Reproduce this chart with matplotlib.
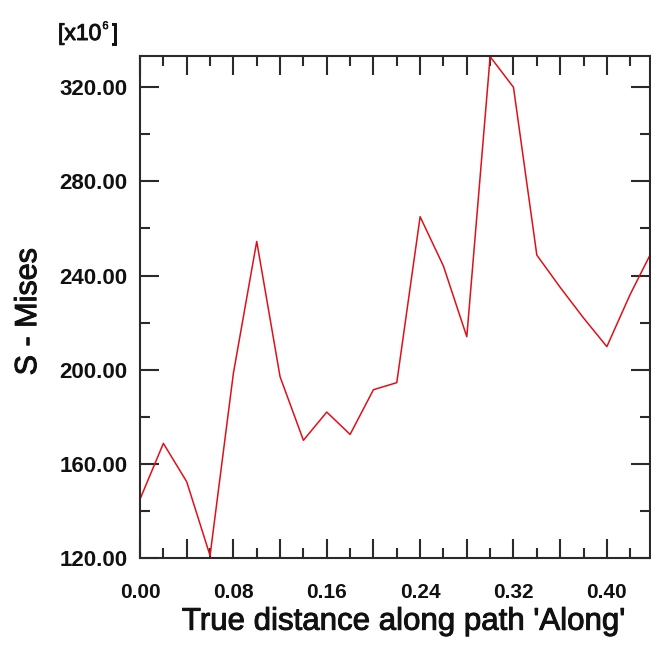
import matplotlib
matplotlib.use("Agg")
import matplotlib.pyplot as plt
import matplotlib.patheffects as pe
from matplotlib.ticker import MultipleLocator, FixedLocator, FixedFormatter

plt.rcParams['font.family'] = ['Liberation Sans', 'DejaVu Sans']

# Path distance and von Mises stress (x10^6)
distance = [0.00, 0.02, 0.04, 0.06, 0.08, 0.10, 0.12, 0.14, 0.16, 0.18, 0.20, 0.22,
            0.24, 0.26, 0.28, 0.30, 0.32, 0.34, 0.36, 0.38, 0.40, 0.42, 0.437]
mises = [145.0, 168.7, 152.4, 121.0, 198.5, 254.5, 197.0, 170.0, 182.0, 172.5, 191.5, 194.5,
         265.0, 244.0, 214.0, 333.0, 320.0, 248.7, 235.0, 222.0, 209.8, 232.0, 248.7]

x_major = [0.00, 0.04, 0.08, 0.12, 0.16, 0.20, 0.24, 0.28, 0.32, 0.36, 0.40]
x_labels = ["0.00", "", "0.08", "", "0.16", "", "0.24", "", "0.32", "", "0.40"]
y_major = [120, 160, 200, 240, 280, 320]
y_labels = ["120.00", "160.00", "200.00", "240.00", "280.00", "320.00"]

text_col = '#111111'
heavy = [pe.withStroke(linewidth=0.7, foreground=text_col)]

fig = plt.figure(figsize=(6.51, 6.54), dpi=100)
ax = fig.add_axes([0.2151, 0.1468, 0.7834, 0.768])

ax.plot(distance, mises, color='#e01018', linewidth=1.1)

ax.set_xlim(0, 0.437)
ax.set_ylim(120, 333.4)

ax.xaxis.set_major_locator(FixedLocator(x_major))
ax.xaxis.set_major_formatter(FixedFormatter(x_labels))
ax.xaxis.set_minor_locator(MultipleLocator(0.02))
ax.yaxis.set_major_locator(FixedLocator(y_major))
ax.yaxis.set_major_formatter(FixedFormatter(y_labels))
ax.yaxis.set_minor_locator(MultipleLocator(20))

tick_col = '#2a2a2a'
ax.tick_params(which='both', direction='in', top=True, right=True, color=tick_col, width=1.5)
ax.tick_params(which='major', length=14)
ax.tick_params(which='minor', length=7)
ax.tick_params(axis='x', which='major', pad=18, labelsize=15)
ax.tick_params(axis='y', which='major', pad=9, labelsize=16)
for lbl in ax.get_xticklabels() + ax.get_yticklabels():
    lbl.set_fontweight('bold')
    lbl.set_color(text_col)

for sp in ax.spines.values():
    sp.set_color(tick_col)
    sp.set_linewidth(1.5)

xl = ax.set_xlabel("True distance along path 'Along'", fontsize=22.5, color=text_col)
xl.set_path_effects(heavy)
ax.xaxis.set_label_coords(0.517, -0.097)
yl = ax.set_ylabel("S - Mises", fontsize=22, color=text_col)
yl.set_path_effects(heavy)
ax.yaxis.set_label_coords(-0.19, 0.49)

# Scale factor note: "[x10" + small raised "6" + "]"
renderer = fig.canvas.get_renderer()
base_y = 1 - 40 / 654
t1 = fig.text(58 / 651, base_y, "[x10", fontsize=16.5, color=text_col,
              va='baseline', ha='left')
t1.set_path_effects(heavy)
x_after = t1.get_window_extent(renderer).x1 / fig.bbox.width
t2 = fig.text(x_after + 1 / 651, base_y + 11 / 654, "6", fontsize=8, color=text_col,
              va='baseline', ha='left')
t2.set_path_effects([pe.withStroke(linewidth=0.4, foreground=text_col)])
x_after2 = t2.get_window_extent(renderer).x1 / fig.bbox.width
t3 = fig.text(x_after2 + 3 / 651, base_y, "]", fontsize=16.5, color=text_col,
              va='baseline', ha='left')
t3.set_path_effects(heavy)

fig.savefig("out.png", dpi=100)
